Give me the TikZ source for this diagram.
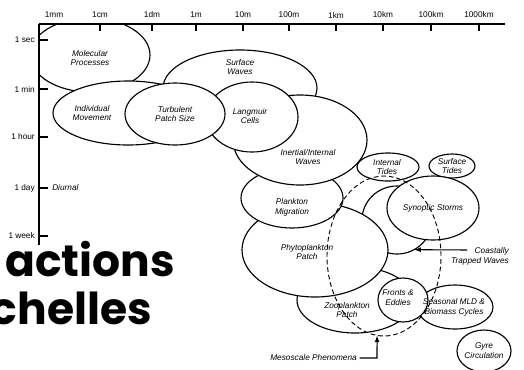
\documentclass[tikz,border=0pt]{standalone}
\usepackage{fontspec}
\setmainfont{Liberation Sans}
\newfontfamily\bigfont{Poppins}
\usetikzlibrary{shapes.geometric,arrows.meta}
\begin{document}
\begin{tikzpicture}[x=0.75pt,y=-0.75pt,
  blob/.style 2 args={ellipse,draw,fill=white,line width=0.85pt,inner sep=0pt,outer sep=0pt,
    minimum width={2*#1*0.75pt},minimum height={2*#2*0.75pt}},
  lbl/.style={font=\fontsize{6.2}{7.4}\selectfont\itshape,align=center,inner sep=0pt},
  axl/.style={font=\fontsize{6.2}{7.4}\selectfont,inner sep=0pt},
  axisline/.style={line width=0.9pt},
  arr/.style={line width=0.8pt,-{Latex[length=5pt,width=3.6pt]}},
  big/.style={anchor=base east,inner sep=0pt,font=\bigfont\bfseries\fontsize{33}{33}\selectfont}]
\useasboundingbox (0,0) rectangle (524,369);

% axis labels
\node[axl] (x1) at (54,15) {1mm};
\node[axl] (x2) at (100,15) {1cm};
\node[axl] (x3) at (152,15) {1dm};
\node[axl] (x4) at (196,15) {1m};
\node[axl] (x5) at (243,15) {10m};
\node[axl] (x6) at (289,15) {100m};
\node[axl] (x7) at (336,15) {1km};
\node[axl] (x8) at (383,15) {10km};
\node[axl] (x9) at (431,15) {100km};
\node[axl] (x10) at (479,15) {1000km};
\node[axl,anchor=east] (y1) at (35,40) {1 sec};
\node[axl,anchor=east] (y2) at (35,89) {1 min};
\node[axl,anchor=east] (y3) at (35,137) {1 hour};
\node[axl,anchor=east] (y4) at (35,188) {1 day};
\node[axl,anchor=east] (y5) at (35,236) {1 week};
\node[lbl,anchor=west] (diu) at (52,188) {Diurnal};

% ellipses, back to front
\begin{scope}
\clip (39,24) rectangle (524,369);
\node[blob={60}{37}] (mol) at (90,55) {};
\end{scope}
\node[blob={75}{32}] (ind) at (128,113) {};
\node[blob={77}{38}] (sw) at (240,88) {};
\node[blob={58}{33}] (zoo) at (355,300) {};
\node[blob={38}{22}] (sea) at (455,307) {};
\node[blob={25}{22}] (fe) at (403,300) {};
\node[blob={35}{34}] (ctw) at (397,220) {};
\node[blob={73}{47}] (phy) at (315,250) {};
\node[blob={51}{30}] (pm) at (292,198) {};
\node[blob={67}{45}] (iw) at (300,140) {};
\node[blob={46}{35}] (lc) at (252,117) {};
\node[blob={50}{31}] (tp) at (175,114) {};
\node[blob={31}{14}] (it) at (388,167) {};
\node[blob={23}{12}] (st) at (452,166) {};
\node[blob={46}{32}] (ss) at (433,208) {};
\node[blob={27}{21}] (gy) at (484,351) {};
\node[ellipse,draw,line width=0.7pt,dash pattern=on 3.5pt off 2.2pt,inner sep=0pt,outer sep=0pt,
  minimum width={114*0.75pt},minimum height={160*0.75pt}] (meso) at (384,256) {};

% axes and ticks
\draw[axisline] (39,24) -- (505,24);
\draw[axisline] (39,24) -- (39,245);
\foreach \x in {100,152,196,243,289,336,383,431,479} \draw[axisline] (\x,24) -- (\x,31);
\foreach \y in {40,89,137,188,236} \draw[axisline] (39,\y) -- (48,\y);

% labels
\node[lbl] (molt) at (90,58) {Molecular\\Processes};
\node[lbl] (indt) at (92,113) {Individual\\Movement};
\node[lbl] (swt) at (240,67) {Surface\\Waves};
\node[lbl] (tpt) at (175,114) {Turbulent\\Patch Size};
\node[lbl] (lct) at (250,116) {Langmuir\\Cells};
\node[lbl] (iwt) at (308,157) {Inertial/Internal\\Waves};
\node[lbl] (itt) at (387,167) {Internal\\Tides};
\node[lbl] (stt) at (452,166) {Surface\\Tides};
\node[lbl] (pmt) at (292,207) {Plankton\\Migration};
\node[lbl] (sst) at (433,208) {Synoptic Storms};
\node[lbl] (phyt) at (307,252) {Phytoplankton\\Patch};
\node[lbl] (fet) at (398,298) {Fronts \&\\Eddies};
\node[lbl] (seat) at (454,307) {Seasonal MLD \&\\Biomass Cycles};
\node[lbl] (zoot) at (347,310) {Zooplankton\\Patch};
\node[lbl] (gyt) at (484,351) {Gyre\\Circulation};
\node[lbl,align=right,anchor=east] (ctwt) at (509,256) {Coastally\\Trapped Waves};
\node[lbl,anchor=east] (mpt) at (357,358) {Mesoscale Phenomena};

% connectors
\coordinate (ctwa) at (467,250);
\draw[arr] (ctwa) -- (ctw.-60);
\coordinate (mpc) at (377,358);
\draw[arr] ([xshift=2]mpt.east) -- (mpc) -- (meso.-95);

% overlay title fragments
\node[big] (bt1) at (175,276) {actions};
\node[big] (bt2) at (152,324) {chelles};
\end{tikzpicture}
\end{document}
